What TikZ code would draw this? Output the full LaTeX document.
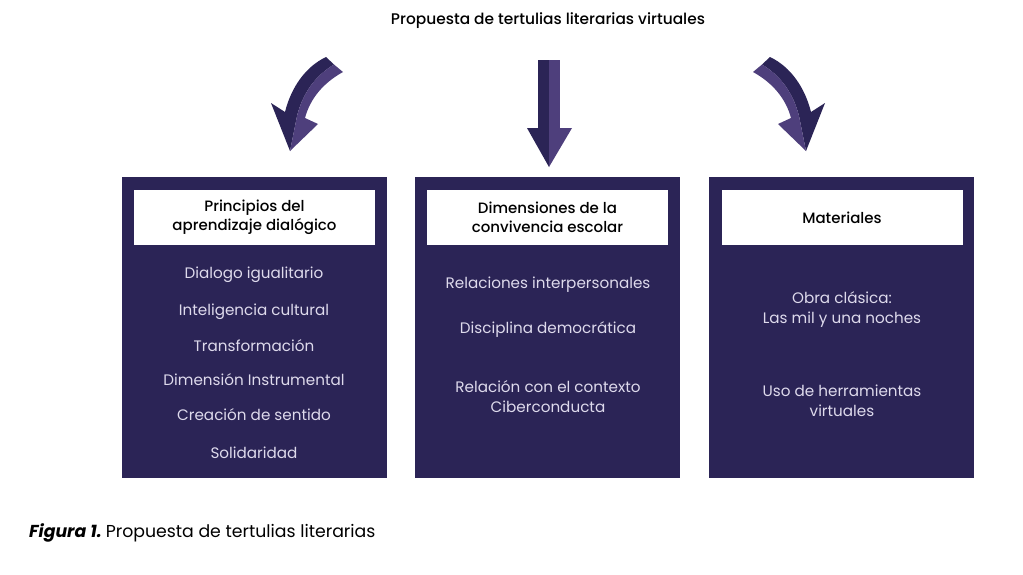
\documentclass[tikz,border=0pt]{standalone}
\usepackage{fontspec}
\setmainfont{Poppins}
\newfontfamily\medfont{Poppins Medium}
\usetikzlibrary{positioning}
\definecolor{navy}{HTML}{2B2456}
\definecolor{lilac}{HTML}{4E3F7C}
\definecolor{pale}{HTML}{DEDAEC}
\tikzset{
  panel/.style={fill=navy,minimum width=265pt,minimum height=301pt,anchor=north west,inner sep=0pt},
  head/.style={fill=white,minimum width=241pt,minimum height=55pt,align=center,font=\fontsize{15}{19.5}\selectfont\medfont,inner sep=0pt},
  item/.style={text=pale,align=center,font=\fontsize{15.2}{20}\selectfont,inner sep=0pt}
}
\newcommand{\bentarrow}{%
  % dark outer half
  \fill[navy] (326,57) .. controls (305,67) and (291,88) .. (285,112) -- (271,103) -- (290,151)
    -- (297,116) .. controls (302,96) and (313,77) .. (334,64.5) -- cycle;
  % light inner half
  \fill[lilac] (334,64.5) .. controls (313,77) and (302,96) .. (297,116) -- (290,151)
    -- (318,124) -- (305,118) .. controls (310,99) and (323,83) .. (343,72) -- cycle;
}
\begin{document}
\begin{tikzpicture}[x=1pt,y=-1pt]
  \useasboundingbox[fill=white] (0,0) rectangle (1023,574);
  \node[font=\fontsize{15.4}{18}\selectfont\medfont] (title) at (548,21) {Propuesta de tertulias literarias virtuales};

  % arrows
  \bentarrow
  \begin{scope}[shift={(1096,0)},xscale=-1]
    \bentarrow
  \end{scope}
  \fill[navy] (538,60) rectangle (549,128);
  \fill[lilac] (549,60) rectangle (560,128);
  \fill[navy] (527,128) -- (549,128) -- (549,167) -- cycle;
  \fill[lilac] (549,128) -- (572,128) -- (549,167) -- cycle;

  % panels
  \node[panel] (p1) at (122,177) {};
  \node[panel] (p2) at (415,177) {};
  \node[panel] (p3) at (709,177) {};
  \node[head] (h1) at (254.5,217.5) {Principios del\\aprendizaje dialógico};
  \node[head] (h2) at (547.5,217.5) {Dimensiones de la\\convivencia escolar};
  \node[head] (h3) at (842,217.5) {Materiales};

  \node[item] (a1) at (254,275) {Dialogo igualitario};
  \node[item] (a2) at (254,312) {Inteligencia cultural};
  \node[item] (a3) at (254,346) {Transformación};
  \node[item] (a4) at (254,380) {Dimensión Instrumental};
  \node[item] (a5) at (254,415) {Creación de sentido};
  \node[item] (a6) at (254,453) {Solidaridad};

  \node[item] (b1) at (548,285) {Relaciones interpersonales};
  \node[item] (b2) at (548,330) {Disciplina democrática};
  \node[item] (b3) at (548,397) {Relación con el contexto\\Ciberconducta};

  \node[item] (c1) at (842,310) {Obra clásica:\\Las mil y una noches};
  \node[item] (c2) at (842,401) {Uso de herramientas\\virtuales};

  \node[anchor=west,font=\fontsize{17.3}{20}\selectfont,inner sep=0pt] (cap) at (29,533)
    {\textbf{\textit{Figura 1.}}\hspace{-2pt} Propuesta de tertulias literarias};
\end{tikzpicture}
\end{document}
